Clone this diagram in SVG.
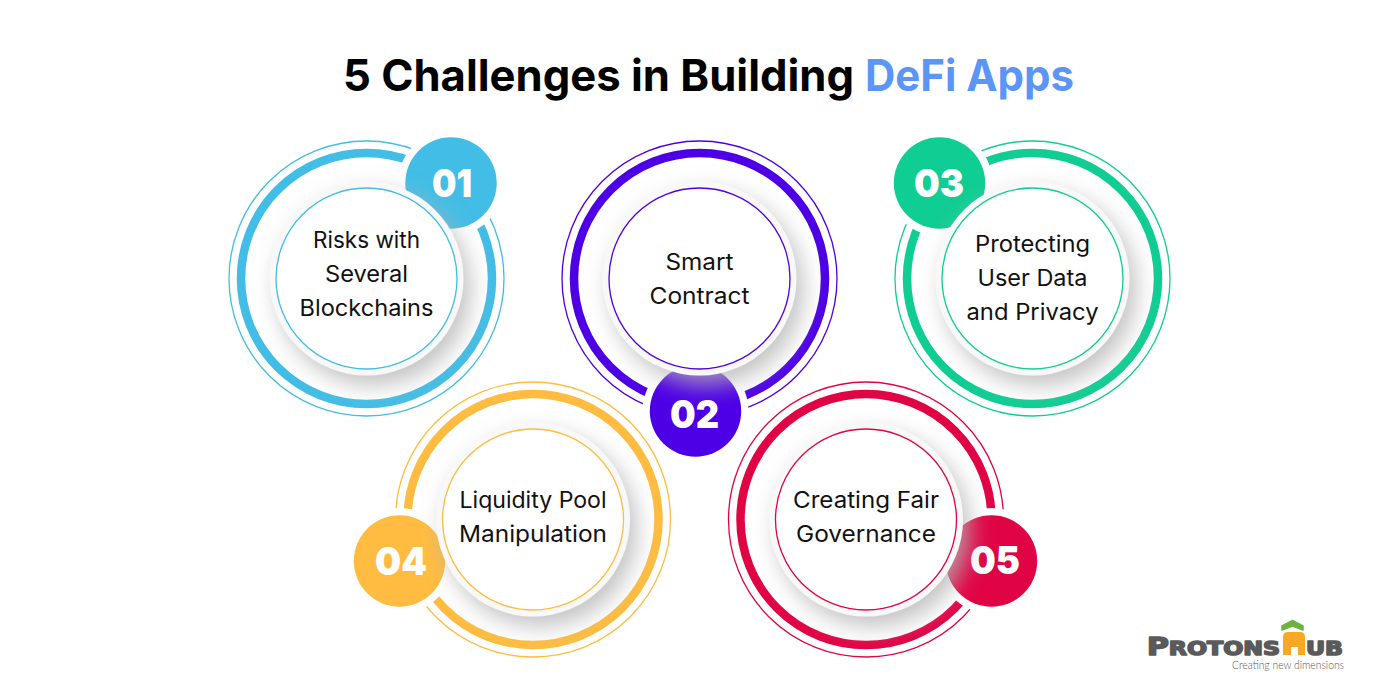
<svg xmlns="http://www.w3.org/2000/svg" width="1400" height="700" viewBox="0 0 1400 700">
<style>
text{font-family:"Inter","Liberation Sans",sans-serif}
.title{font-size:44px;font-weight:700;fill:#000}
.label{font-size:22.5px;font-weight:400;fill:#111;text-anchor:middle}
.num{font-size:39px;font-weight:900;fill:#fff;text-anchor:middle}
.thin{fill:none;stroke-width:1.3}
.thick{fill:none;stroke-width:8.5}
.halo{fill:#fff}
.disc{fill:#f8f8f8;filter:url(#sh)}
.in{fill:#fff;stroke-width:1.3}
.logo{font-weight:700;fill:#5a5a5a;stroke:#5a5a5a;stroke-width:1.6;stroke-linejoin:round;font-family:"DejaVu Sans",sans-serif}
.c1{stroke:#42bde6}.f1{fill:#42bde6}
.c2{stroke:#4d00e6}.f2{fill:#4d00e6}
.c3{stroke:#10cd94}.f3{fill:#10cd94}
.c4{stroke:#ffbc40}.f4{fill:#ffbc40}
.c5{stroke:#e10445}.f5{fill:#e10445}
</style>
<defs>
<filter id="sh" x="-40%" y="-40%" width="190%" height="190%">
<feDropShadow dx="7" dy="10" stdDeviation="11" flood-color="#b4b4b4" flood-opacity="0.8"/>
</filter>
</defs>
<rect width="1400" height="700" fill="#fff"/>
<text class="title" x="343" y="91" textLength="511" lengthAdjust="spacingAndGlyphs">5 Challenges in Building</text>
<text class="title" x="865" y="91" textLength="209" lengthAdjust="spacingAndGlyphs" style="fill:#5b96f7">DeFi Apps</text>

<g id="node-01">
<circle class="thin c1" cx="366.5" cy="278.5" r="137.5"/>
<circle class="thick c1" cx="366.5" cy="278.5" r="125.5"/>
<circle class="halo" cx="451" cy="183" r="53"/>
<circle class="f1" cx="451" cy="183" r="45.7"/>
<text class="num" x="452" y="196.500" textLength="40" lengthAdjust="spacingAndGlyphs">01</text>
<circle class="disc" cx="366.500" cy="278.500" r="97"/>
<circle class="in c1" cx="366.500" cy="278.500" r="90.500"/>
<text class="label" x="366.500" y="248" textLength="107" lengthAdjust="spacingAndGlyphs">Risks with</text>
<text class="label" x="366.500" y="282" textLength="83" lengthAdjust="spacingAndGlyphs">Several</text>
<text class="label" x="366.500" y="316" textLength="134" lengthAdjust="spacingAndGlyphs">Blockchains</text>
</g>

<g id="node-02">
<circle class="thin c2" cx="699.5" cy="278.5" r="137.5"/>
<circle class="thick c2" cx="699.5" cy="278.5" r="125.5"/>
<circle class="halo" cx="695.500" cy="411" r="53"/>
<circle class="f2" cx="695.500" cy="411" r="45.7"/>
<text class="num" x="694.500" y="428" textLength="49" lengthAdjust="spacingAndGlyphs">02</text>
<circle class="disc" cx="699.500" cy="278.500" r="97"/>
<circle class="in c2" cx="699.500" cy="278.500" r="90.500"/>
<text class="label" x="699.500" y="270" textLength="68" lengthAdjust="spacingAndGlyphs">Smart</text>
<text class="label" x="699.500" y="304" textLength="100" lengthAdjust="spacingAndGlyphs">Contract</text>
</g>

<g id="node-03">
<circle class="thin c3" cx="1032.500" cy="278.500" r="137.500"/>
<circle class="thick c3" cx="1032.500" cy="278.500" r="125.500"/>
<circle class="halo" cx="939.500" cy="183" r="53"/>
<circle class="f3" cx="939.500" cy="183" r="45.7"/>
<text class="num" x="939" y="196.500" textLength="50" lengthAdjust="spacingAndGlyphs">03</text>
<circle class="disc" cx="1032.500" cy="278.500" r="97"/>
<circle class="in c3" cx="1032.500" cy="278.500" r="90.500"/>
<text class="label" x="1032.500" y="252" textLength="115" lengthAdjust="spacingAndGlyphs">Protecting</text>
<text class="label" x="1032.500" y="286" textLength="110" lengthAdjust="spacingAndGlyphs">User Data</text>
<text class="label" x="1032.500" y="320" textLength="132" lengthAdjust="spacingAndGlyphs">and Privacy</text>
</g>

<g id="node-04">
<circle class="thin c4" cx="533" cy="519.500" r="137.500"/>
<circle class="thick c4" cx="533" cy="519.500" r="125.500"/>
<circle class="halo" cx="399.500" cy="561" r="53"/>
<circle class="f4" cx="399.500" cy="561" r="45.7"/>
<text class="num" x="401" y="574.500" textLength="52" lengthAdjust="spacingAndGlyphs">04</text>
<circle class="disc" cx="533" cy="519.500" r="97"/>
<circle class="in c4" cx="533" cy="519.500" r="90.500"/>
<text class="label" x="533" y="507.500" textLength="147" lengthAdjust="spacingAndGlyphs">Liquidity Pool</text>
<text class="label" x="533" y="541.500" textLength="148" lengthAdjust="spacingAndGlyphs">Manipulation</text>
</g>

<g id="node-05">
<circle class="thin c5" cx="866" cy="519.500" r="137.500"/>
<circle class="thick c5" cx="866" cy="519.500" r="125.500"/>
<circle class="halo" cx="991.500" cy="561" r="53"/>
<circle class="f5" cx="991.500" cy="561" r="45.7"/>
<text class="num" x="995" y="574" textLength="50" lengthAdjust="spacingAndGlyphs">05</text>
<circle class="disc" cx="866" cy="519.500" r="97"/>
<circle class="in c5" cx="866" cy="519.500" r="90.500"/>
<text class="label" x="866" y="507.500" textLength="146" lengthAdjust="spacingAndGlyphs">Creating Fair</text>
<text class="label" x="866" y="541.500" textLength="140" lengthAdjust="spacingAndGlyphs">Governance</text>
</g>

<g id="logo">
<path d="M1282 630 L1282 626 L1292.500 620.500 L1303 626 L1303 630 L1292.500 626 Z" fill="#6db33f" stroke="#6db33f" stroke-width="1.500" stroke-linejoin="round"/>
<path d="M1283 655 L1283 637 Q1283 632 1288 632 L1300 632 Q1305 632 1305 637 L1305 655 L1298 655 L1298 647 L1291 647 L1291 655 Z" fill="#f9a825"/>
<text class="logo" x="1147" y="655" font-size="24" textLength="133" lengthAdjust="spacingAndGlyphs">P<tspan font-size="19">ROTONS</tspan></text>
<text class="logo" x="1306" y="655" font-size="19" textLength="37" lengthAdjust="spacingAndGlyphs">UB</text>
<text x="1232" y="669" font-size="11.500" fill="#555" style="font-family:Lato,sans-serif;font-weight:300" textLength="112" lengthAdjust="spacingAndGlyphs">Creating new dimensions</text>
</g>
</svg>
